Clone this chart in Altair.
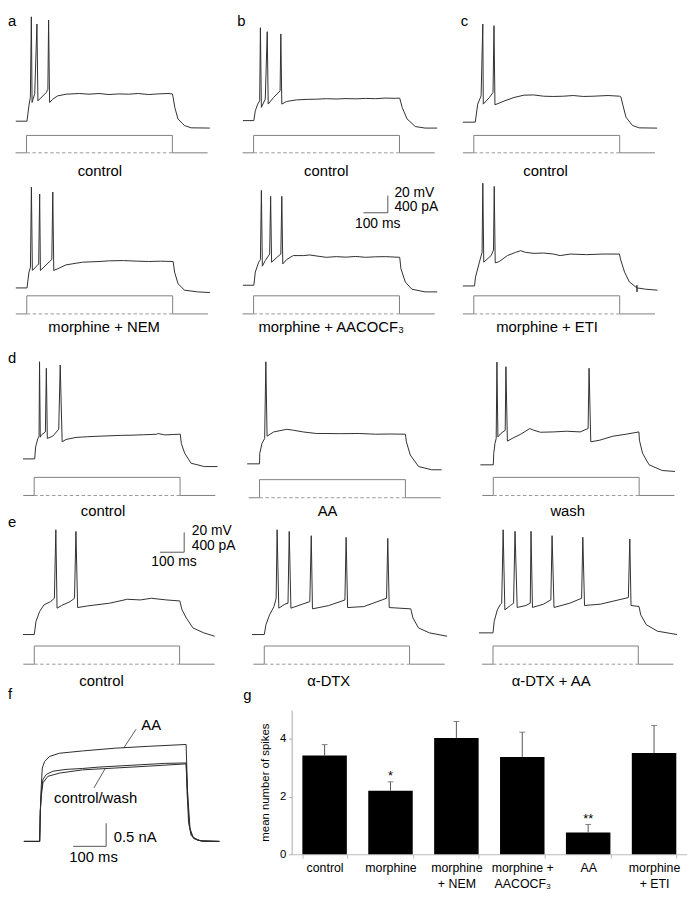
import altair as alt
import pandas as pd

FONT = "Liberation Sans"
TRACE = "#303030"
PROT = "#808080"

# ---------------- data (ms, mV, pA, nA) ----------------
prot_t = [-45, 0, 0, 600, 600, 745]
prot_pa = [0, 0, 400, 400, 0, 0]
dash_t = [0, 600]
dash_pa = [0, 0]

a1_t = [-44, 2, 11, 16, 20, 23, 34, 43, 47, 81, 88, 91, 95, 108, 128, 163, 217, 257, 298, 339, 379, 420, 460, 501, 542, 582, 600, 603, 610, 623, 650, 677, 754]
a1_v = [-65, -65, -45.1, -37.4, 56.4, -43.2, -32.8, 48, -41.3, -31.7, -27.9, 52.6, -43.2, -39.4, -35.6, -33.6, -32.8, -33.6, -32.8, -34, -33.3, -33.6, -32.8, -34, -33.3, -32.8, -33.3, -37.1, -48.9, -62.4, -70.1, -72.7, -73]

b1_t = [-44, 1, 7, 17, 25, 28, 32, 48, 56, 60, 82, 109, 112, 116, 136, 177, 220, 258, 300, 339, 380, 421, 460, 502, 540, 583, 601, 611, 631, 665, 705, 755]
b1_v = [-65, -65, -53.5, -45.8, -42, 43, -49.6, -40, 38.4, -45.8, -38.1, -30.5, 35.8, -45.8, -42.7, -40.9, -40.3, -40.1, -39.5, -39.9, -39.4, -39.7, -39.2, -39.5, -38.8, -39.1, -38.9, -49.6, -63, -71.9, -73.7, -73.7]

c1_t = [-45, 6, 16, 30, 37, 39, 64, 79, 83, 87, 124, 165, 206, 246, 287, 327, 368, 409, 450, 491, 552, 600, 605, 612, 626, 653, 680, 754]
c1_v = [-65, -65, -44, -34.4, 49.1, -44, -36.3, -30.5, 47.2, -44.8, -40.5, -36.3, -33.6, -33.3, -34.8, -35.1, -34.8, -34, -35.1, -34.8, -34, -34.8, -35.6, -44, -59.3, -68.9, -71.6, -71.9]

a2_t = [-45, 1, 9, 15, 19, 23, 49, 53, 56, 94, 103, 107, 111, 127, 161, 229, 297, 340, 398, 450, 500, 550, 602, 608, 622, 649, 703, 753]
a2_v = [-65, -65, -46.6, -40.9, 52.2, -44.7, -37.1, 44.2, -44.7, -34.3, -32, 46.5, -44.7, -42.8, -38.2, -35.1, -34.3, -33.5, -33.2, -33.8, -34.3, -33.9, -34.3, -46.6, -60.1, -67.6, -69.6, -70.4]

b2_t = [-44, 1, 7, 21, 28, 32, 36, 48, 66, 70, 74, 96, 112, 116, 120, 136, 163, 204, 231, 265, 299, 340, 380, 420, 461, 500, 543, 601, 606, 624, 651, 705, 755]
b2_v = [-65, -65, -49.7, -38.2, -35.1, 45.3, -42.8, -36.3, -28.7, 38.4, -38.2, -32.5, -28.7, 38.4, -40.2, -35.1, -30.5, -30.5, -29.8, -31.2, -32.5, -31.7, -32.3, -31.5, -32.5, -31.9, -31.7, -32.5, -45.9, -61.2, -69.6, -72.7, -72.7]

c2_t = [-45, 3, 7, 23, 34, 37, 41, 71, 81, 84, 88, 105, 138, 172, 193, 213, 247, 287, 328, 355, 396, 463, 531, 599, 603, 620, 640, 670, 671, 671, 672, 707, 755]
c2_v = [-65, -65, -54.7, -37.4, -25.9, 54.5, -37.4, -29.7, -23.3, 50.7, -38.2, -36.6, -29.7, -25.9, -24, -25.9, -27.1, -26.7, -27.9, -29.7, -27.9, -28.6, -27.9, -27.9, -33.6, -48.9, -60.4, -67.1, -64.2, -71.9, -67.3, -68.8, -69.9]

d1_t = [-46, 2, 6, 15, 20, 22, 25, 29, 46, 50, 54, 76, 101, 107, 115, 131, 172, 220, 266, 320, 360, 402, 450, 503, 510, 537, 570, 601, 605, 619, 645, 700, 754]
d1_v = [-65, -65, -50.9, -41.2, -38.6, 48, -39.7, -37.4, -33.6, 40.4, -41.2, -38.6, -30.5, 44.2, -45.1, -42.4, -40, -39.2, -38.6, -38, -37.6, -37.4, -36.9, -36.3, -35.5, -37.1, -36.6, -36.3, -47, -58.4, -70, -73.9, -73.9]

d2_t = [-51, 0, 1, 10, 21, 26, 31, 58, 112, 139, 180, 234, 274, 330, 410, 478, 540, 600, 604, 620, 654, 708, 749]
d2_v = [-65, -65, -52.7, -41.2, -35.5, 53.7, -32.8, -27.9, -24.8, -25.9, -27.9, -29.7, -29.7, -29.9, -29.7, -30.5, -30.3, -30.5, -39.4, -54.7, -68.1, -71.9, -71.9]

d3_t = [-53, 0, 2, 7, 12, 15, 19, 31, 49, 52, 58, 85, 113, 150, 167, 194, 248, 302, 357, 390, 394, 401, 438, 492, 546, 599, 601, 614, 641, 695, 747]
d3_v = [-65, -65, -51.6, -40.1, -34.3, 54.5, -32.5, -28.6, -24.8, 49.1, -37.4, -33.2, -29.4, -22.8, -24.8, -27.1, -26.7, -25.9, -26.7, -22.8, 47.3, -38.2, -36.3, -31.7, -29.4, -26.7, -36.3, -51.6, -65, -71.6, -72.7]

e1_t = [-47, 0, 7, 22, 40, 67, 83, 89, 94, 112, 148, 166, 172, 179, 221, 311, 384, 438, 483, 546, 601, 610, 628, 655, 700, 745]
e1_v = [-65, -65, -51.7, -41.7, -35, -31.7, -28.3, 41, -38.3, -35.7, -31.7, -28.3, 39.3, -37.7, -36, -33.3, -29.3, -30, -28.3, -30, -31, -40, -48.3, -58.3, -63.3, -66.7]

e2_t = [-51, 0, 7, 22, 40, 49, 53, 60, 85, 98, 103, 110, 157, 188, 194, 199, 266, 333, 338, 344, 411, 505, 510, 516, 605, 614, 637, 682, 755]
e2_v = [-65, -65, -55, -45, -36.7, -28.3, 41, -38.3, -34.3, -33.3, 39.3, -38.3, -34.3, -31.7, 35, -39, -35.7, -30, 33.3, -37.7, -36.7, -28.3, 32.3, -37.7, -39, -48.3, -58.3, -63.3, -66.7]

e3_t = [-58, 0, 5, 18, 31, 36, 42, 49, 72, 85, 91, 100, 136, 154, 157, 163, 208, 239, 244, 252, 317, 366, 371, 378, 443, 559, 565, 570, 603, 610, 633, 679, 760]
e3_v = [-65, -65, -53.3, -41.7, -36, -35, 39.3, -41.7, -37.3, -35, 37.7, -39.3, -37.3, -35, 37.7, -39.3, -36, -31.7, 33.3, -39.3, -35, -30, 31.7, -37.3, -36, -29.3, 30, -37.3, -38.3, -46.7, -56.7, -63.3, -66.7]

# panel f: K+ currents (nA)
f_aa_t = [-50, -2, 0, 3, 6, 13, 28, 58, 128, 228, 328, 443, 446, 450, 458, 478, 544]
f_aa_i = [0, 0, 0.66, 1.2, 1.59, 1.73, 1.84, 1.91, 1.96, 2.02, 2.06, 2.1, 1.38, 0.45, 0.13, 0.02, 0]
f_ctl_t = [-50, -2, 0, 3, 8, 18, 38, 78, 128, 178, 278, 378, 443, 446, 453, 463, 488, 544]
f_ctl_i = [0, 0, 0.66, 1.09, 1.34, 1.45, 1.52, 1.56, 1.58, 1.61, 1.65, 1.69, 1.7, 1.03, 0.31, 0.09, 0.01, 0]
f_wash_t = [-50, -2, 0, 3, 8, 23, 58, 128, 228, 328, 443, 448, 455, 466, 493, 544]
f_wash_i = [0, 0, 0.66, 0.98, 1.27, 1.41, 1.48, 1.55, 1.59, 1.63, 1.68, 0.99, 0.27, 0.06, 0, 0]

# panel g: bar chart
g_cats = ["control", "morphine", "morphine|+ NEM", "morphine +|AACOCF\u2083", "AA", "morphine|+ ETI"]
g_mean = [3.42, 2.2, 4.03, 3.37, 0.75, 3.51]
g_err = [0.38, 0.31, 0.57, 0.86, 0.28, 0.95]
g_sig = ["", "*", "", "", "**", ""]

# scale bars / annotations (data units)
sb_b2 = {"t": [452, 552], "t2": [552, 552], "v": [19.3, 19.3], "v2": [19.3, 39.3]}
sbtxt_b2 = {"t": [579, 579, 417], "v": [42.5, 25.6, 6.4], "s": ["20 mV", "400 pA", "100 ms"]}
sb_e1 = {"t": [519, 619], "t2": [619, 619], "v": [18.3, 18.3], "v2": [18.3, 38.3]}
sbtxt_e1 = {"t": [650, 650, 483], "v": [39.5, 24.8, 8.0], "s": ["20 mV", "400 pA", "100 ms"]}
sb_f = {"t": [100, 200], "t2": [200, 200], "v": [-0.107, -0.107], "v2": [-0.107, 0.393]}
txt_f = {"t": [307, 168, 223, 88], "v": [2.52, 0.936, 0.092, -0.336],
         "s": ["AA", "control/wash", "0.5 nA", "100 ms"], "al": ["left", "center", "left", "left"]}
lead_f = {"t": [291, 163], "t2": [253, 198], "v": [2.43, 1.16], "v2": [2.02, 1.59]}

# ---------------- helpers ----------------
def df_line(t, v):
    assert len(t) == len(v)
    return pd.DataFrame({"t": t, "v": v, "i": list(range(len(t)))})

prot_df = pd.DataFrame({"t": prot_t, "pa": prot_pa, "i": list(range(len(prot_t)))})
dash_df = pd.DataFrame({"t": dash_t, "pa": dash_pa, "i": [0, 1]})


def vpanel(t, v, L, label, label_t=300, letter=None, letter_xy=(0, 12), sb=None, sbtxt=None):
    x0, W, Xon, Ytop, H, Yb, Yp, kt, kv, ki, labb = (
        L["x0"], L["W"], L["Xon"], L["Ytop"], L["H"], L["Yb"], L["Yp"],
        L["kt"], L["kv"], L["ki"], L["lab"])
    xdom = [(x0 - Xon) / kt, (x0 + W - Xon) / kt]
    vdom = [-65 - (Ytop + H - Yb) / kv, -65 + (Yb - Ytop) / kv]
    idom = [-(Ytop + H - Yp) / ki, (Yp - Ytop) / ki]
    xs = alt.Scale(domain=xdom, nice=False, zero=False)
    vs = alt.Scale(domain=vdom, nice=False, zero=False)
    ps = alt.Scale(domain=idom, nice=False, zero=False)
    X = alt.X("t:Q", scale=xs, axis=None)
    prot = alt.Chart(prot_df).mark_line(color=PROT, strokeWidth=1).encode(
        x=X, y=alt.Y("pa:Q", scale=ps, axis=None), order="i:Q")
    dash = alt.Chart(dash_df).mark_line(color="#999999", strokeWidth=1, strokeDash=[3.5, 2.5]).encode(
        x=X, y=alt.Y("pa:Q", scale=ps, axis=None), order="i:Q")
    line = alt.Chart(df_line(t, v)).mark_line(color=TRACE, strokeWidth=1).encode(
        x=X, y=alt.Y("v:Q", scale=vs, axis=None), order="i:Q")
    lab = alt.Chart(pd.DataFrame({"t": [label_t], "s": [label]})).mark_text(
        fontSize=15, align="center", baseline="alphabetic", color="black").encode(
        x=X, y=alt.value(labb - Ytop), text="s:N")
    layers = [prot, dash, line, lab]
    if letter:
        layers.append(alt.Chart(pd.DataFrame({"s": [letter]})).mark_text(
            fontSize=15, align="left", baseline="alphabetic", color="black").encode(
            x=alt.value(letter_xy[0]), y=alt.value(letter_xy[1]), text="s:N"))
    if sb:
        layers.append(alt.Chart(pd.DataFrame(sb)).mark_rule(color="#555555", strokeWidth=1).encode(
            x=X, x2="t2:Q", y=alt.Y("v:Q", scale=vs, axis=None), y2="v2:Q"))
    if sbtxt:
        layers.append(alt.Chart(pd.DataFrame(sbtxt)).mark_text(
            fontSize=14, align="left", baseline="middle", color="black").encode(
            x=X, y=alt.Y("v:Q", scale=vs, axis=None), text="s:N"))
    return alt.layer(*layers).resolve_scale(y="independent").properties(width=W, height=H)


def lay(x0, W, Xon, Ytop, H, Yb, Yp, kt, kv, ki, lab):
    return dict(x0=x0, W=W, Xon=Xon, Ytop=Ytop, H=H, Yb=Yb, Yp=Yp, kt=kt, kv=kv, ki=ki, lab=lab)

panels = []
# ---------------- rows a-e ----------------
panels += [
    vpanel(a1_t, a1_v, lay(8, 230, 26.7, 8, 162, 117.3, 149.3, 0.246, 0.87, 0.044, 172.5), "control", 302, "a", (0, 12.5)),
    vpanel(b1_t, b1_v, lay(238, 228, 256.5, 8, 162, 116.7, 149.3, 0.246, 0.87, 0.044, 172.5), "control", 299, "b", (2, 12.5)),
    vpanel(c1_t, c1_v, lay(466, 229, 479.3, 8, 162, 118.3, 149.3, 0.246, 0.87, 0.044, 172.5), "control", 295, "c", (0, 12.5)),
]
panels += [
    vpanel(a2_t, a2_v, lay(8, 230, 27, 170, 160, 286, 312.3, 0.246, 0.87, 0.0458, 331), "morphine + NEM", 318),
    vpanel(b2_t, b2_v, lay(238, 228, 256.5, 170, 160, 283.3, 312.3, 0.246, 0.87, 0.0458, 331),
           "morphine + AACOCF\u2083", 319, sb=sb_b2, sbtxt=sbtxt_b2),
    vpanel(c2_t, c2_v, lay(466, 229, 479.3, 170, 160, 284, 312.3, 0.246, 0.87, 0.0458, 331), "morphine + ETI", 301),
]
panels += [
    vpanel(d1_t, d1_v, lay(8, 230, 34.5, 330, 190, 459, 496, 0.246, 0.87, 0.0458, 516.5), "control", 283, "d", (0, 31.5)),
    vpanel(d2_t, d2_v, lay(238, 228, 262.5, 330, 190, 464, 498.3, 0.246, 0.87, 0.0458, 516.5), "AA", 280),
    vpanel(d3_t, d3_v, lay(466, 229, 499, 330, 190, 465, 496, 0.246, 0.87, 0.0458, 516.5), "wash", 306),
]
panels += [
    vpanel(e1_t, e1_v, lay(8, 230, 34.6, 520, 193, 636.7, 666.7, 0.245, 1.0, 0.046, 688.5), "control", 278, "e", (0, 8),
           sb=sb_e1, sbtxt=sbtxt_e1),
    vpanel(e2_t, e2_v, lay(238, 228, 267.3, 520, 193, 636.7, 666.7, 0.245, 1.0, 0.046, 688.5), "\u03b1-DTX", 266),
    vpanel(e3_t, e3_v, lay(466, 229, 498.7, 520, 193, 635, 666.7, 0.245, 1.0, 0.046, 688.5), "\u03b1-DTX + AA", 240),
]

# ---------------- panel f ----------------
fx0, fW, fXon, fYtop, fH, fYb, fkt, fki = 8, 230, 40.7, 713, 146, 846, 0.333, 46.7
fxs = alt.Scale(domain=[(fx0 - fXon) / fkt, (fx0 + fW - fXon) / fkt], nice=False, zero=False)
fys = alt.Scale(domain=[-(fYtop + fH - fYb) / fki, (fYb - fYtop) / fki], nice=False, zero=False)
FX = alt.X("t:Q", scale=fxs, axis=None)
FY = alt.Y("v:Q", scale=fys, axis=None)
f_layers = []
for tt, ii in [(f_ctl_t, f_ctl_i), (f_wash_t, f_wash_i), (f_aa_t, f_aa_i)]:
    f_layers.append(alt.Chart(df_line(tt, ii)).mark_line(color="#2a2a2a", strokeWidth=1).encode(
        x=FX, y=FY, order="i:Q"))
f_layers.append(alt.Chart(pd.DataFrame(lead_f)).mark_rule(color="#333333", strokeWidth=0.8).encode(
    x=FX, x2="t2:Q", y=FY, y2="v2:Q"))
f_layers.append(alt.Chart(pd.DataFrame(sb_f)).mark_rule(color="#555555", strokeWidth=1).encode(
    x=FX, x2="t2:Q", y=FY, y2="v2:Q"))
ftxt = pd.DataFrame(txt_f)
for al in ["left", "center"]:
    f_layers.append(alt.Chart(ftxt[ftxt["al"] == al]).mark_text(
        fontSize=15, align=al, baseline="middle", color="black").encode(x=FX, y=FY, text="s:N"))
f_layers.append(alt.Chart(pd.DataFrame({"s": ["f"]})).mark_text(
    fontSize=15, align="left", baseline="alphabetic", color="black").encode(
    x=alt.value(0), y=alt.value(-11), text="s:N"))
fpanel = alt.layer(*f_layers).properties(width=fW, height=fH)

# ---------------- panel g ----------------
# view occupies the 2nd grid column (ref x 238..466); plot range spans ref x 295..695
G_LEFT = 295 - 238
G_RIGHT = 695 - 238
gdf = pd.DataFrame({"cat": g_cats, "mean": g_mean, "err": g_err, "sig": g_sig})
gdf["hi"] = gdf["mean"] + gdf["err"]
GX = alt.X("cat:N", sort=g_cats,
           scale=alt.Scale(range=[G_LEFT, G_RIGHT], paddingInner=0.325, paddingOuter=0.1625),
           axis=alt.Axis(title=None, labelAngle=0, labelExpr="split(datum.label, '|')",
                         labelFontSize=12.5, labelLineHeight=16.5, labelBaseline="top",
                         labelPadding=3, tickBand="extent", tickSize=4, tickColor="#bbbbbb",
                         domainColor="#bbbbbb", labelColor="black", labelFont=FONT))
GY = alt.Y("mean:Q", scale=alt.Scale(domain=[0, 5], nice=False, zero=True),
           axis=alt.Axis(values=[0, 1, 2, 3, 4, 5], title="mean number of spikes", grid=False,
                         offset=-G_LEFT,
                         tickSize=3, tickColor="#aaaaaa", domainColor="#aaaaaa", labelFontSize=11.5,
                         labelPadding=3, labelColor="black", labelFont=FONT, titleFont=FONT,
                         titleFontSize=11.5, titleFontWeight="normal", titleColor="black", titlePadding=9))
gbars = alt.Chart(gdf).mark_bar(color="black").encode(x=GX, y=GY)
gerr = alt.Chart(gdf).mark_rule(color="#555555", strokeWidth=1).encode(
    x=alt.X("cat:N", sort=g_cats), y="mean:Q", y2="hi:Q")
gcap = alt.Chart(gdf).mark_tick(color="#555555", thickness=1, size=6).encode(
    x=alt.X("cat:N", sort=g_cats), y="hi:Q")
gstar = alt.Chart(gdf).mark_text(fontSize=13, dy=-2, baseline="alphabetic", color="black").encode(
    x=alt.X("cat:N", sort=g_cats), y="hi:Q", text="sig:N")
gletter = alt.Chart(pd.DataFrame({"s": ["g"]})).mark_text(
    fontSize=15, align="left", baseline="alphabetic", color="black").encode(
    x=alt.value(8), y=alt.value(-10), text="s:N")
gpanel = alt.layer(gbars, gerr, gcap, gstar, gletter).properties(width=228, height=146)

panels += [fpanel, gpanel]

chart = alt.concat(*panels, columns=3, spacing=0, bounds="flush").properties(
    padding=0
).configure_view(stroke=None).configure_text(font=FONT).configure_axis(labelFont=FONT, titleFont=FONT)

chart.save("out.html", embed_options={"renderer": "svg", "actions": False})
